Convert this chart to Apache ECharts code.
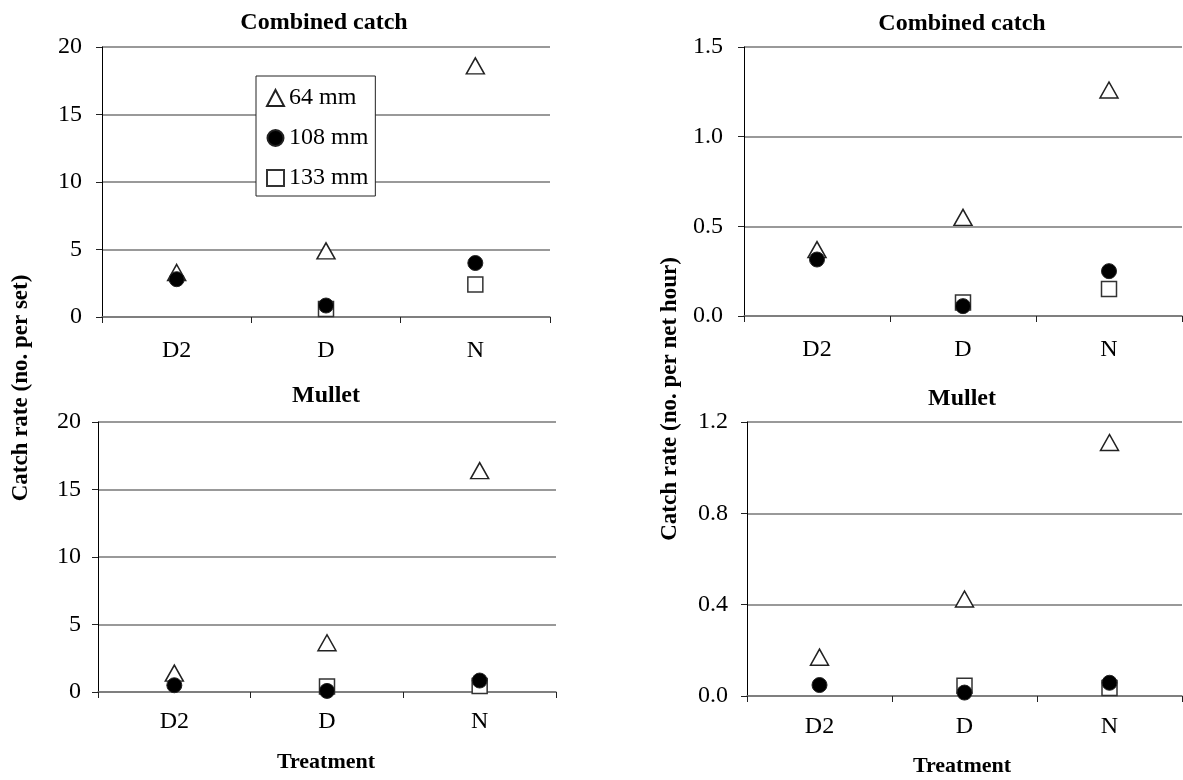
<!DOCTYPE html>
<html><head><meta charset="utf-8">
<script src="https://cdn.jsdelivr.net/npm/echarts@6/dist/echarts.min.js"></script>
<style>html,body{margin:0;padding:0;background:#fff}#c{width:1183px;height:780px}</style>
</head><body><div id="c"></div>
<script>
const categories = ['D2', 'D', 'N'];
const seriesNames = ['64 mm', '108 mm', '133 mm'];
// Combined catch, no. per set
const combinedSet64 = [3.3, 4.9, 18.6];
const combinedSet108 = [2.8, 0.85, 4.0];
const combinedSet133 = [null, 0.6, 2.4];
// Combined catch, no. per net hour
const combinedHour64 = [0.37, 0.55, 1.26];
const combinedHour108 = [0.315, 0.055, 0.25];
const combinedHour133 = [null, 0.075, 0.15];
// Mullet, no. per set
const mulletSet64 = [1.4, 3.65, 16.4];
const mulletSet108 = [0.5, 0.08, 0.85];
const mulletSet133 = [null, 0.4, 0.45];
// Mullet, no. per net hour
const mulletHour64 = [0.17, 0.425, 1.11];
const mulletHour108 = [0.048, 0.015, 0.058];
const mulletHour133 = [null, 0.045, 0.035];

const FONT = 'Liberation Serif';
const chart = echarts.init(document.getElementById('c'));

const grids = [
  {left: 102, top: 47, width: 448, height: 270},
  {left: 744, top: 47, width: 438, height: 269},
  {left: 98, top: 422, width: 458, height: 270},
  {left: 747, top: 422, width: 435, height: 274}
];
const yDefs = [
  {min: 0, max: 20, interval: 5, dec: 0},
  {min: 0, max: 1.5, interval: 0.5, dec: 1},
  {min: 0, max: 20, interval: 5, dec: 0},
  {min: 0, max: 1.2, interval: 0.4, dec: 1}
];
const xLabelMargins = [22, 22, 18, 19];
const yLabelMargins = [20, 21, 17, 19];

const xAxis = grids.map((g, i) => ({
  type: 'category', gridIndex: i, data: categories,
  axisLine: {lineStyle: {color: '#777', width: 1.5}},
  axisTick: {show: true, length: 6, lineStyle: {color: '#222', width: 1}},
  axisLabel: {fontFamily: FONT, fontSize: 24, color: '#000', margin: xLabelMargins[i]},
  splitLine: {show: false}
}));
const yAxis = yDefs.map((d, i) => ({
  type: 'value', gridIndex: i, min: d.min, max: d.max, interval: d.interval,
  axisLine: {show: true, lineStyle: {color: '#000', width: 1}},
  axisTick: {show: true, length: 6, lineStyle: {color: '#222', width: 1}},
  axisLabel: {fontFamily: FONT, fontSize: 24, color: '#000', margin: yLabelMargins[i],
    formatter: v => v.toFixed(d.dec)},
  splitLine: {show: true, lineStyle: {color: '#777', width: 1.5}}
}));

const panelData = [
  [combinedSet64, combinedSet108, combinedSet133],
  [combinedHour64, combinedHour108, combinedHour133],
  [mulletSet64, mulletSet108, mulletSet133],
  [mulletHour64, mulletHour108, mulletHour133]
];
const styles = [
  {symbol: 'triangle', symbolSize: [18, 16], itemStyle: {color: '#fff', borderColor: '#222', borderWidth: 1.5, opacity: 1}, z: 2},
  {symbol: 'circle', symbolSize: 15, itemStyle: {color: '#000', borderColor: '#222', borderWidth: 1, opacity: 1}, z: 4},
  {symbol: 'rect', symbolSize: 15, itemStyle: {color: '#fff', borderColor: '#333', borderWidth: 1.5, opacity: 1}, z: 3}
];
const series = [];
panelData.forEach((arrs, p) => {
  arrs.forEach((arr, k) => {
    series.push(Object.assign({
      type: 'scatter', name: seriesNames[k], xAxisIndex: p, yAxisIndex: p,
      data: arr, emphasis: {disabled: true}, silent: true
    }, styles[k]));
  });
});

function txt(x, y, s, size, rot) {
  return {
    type: 'text', x: x, y: y, silent: true, rotation: rot || 0,
    style: {text: s, fontFamily: FONT, fontSize: size, fontWeight: 'bold',
      fill: '#000', align: 'center', verticalAlign: 'middle'}
  };
}

chart.setOption({
  animation: false,
  grid: grids,
  xAxis: xAxis,
  yAxis: yAxis,
  series: series,
  legend: {
    data: seriesNames,
    orient: 'vertical', left: 256, top: 76,
    padding: [10, 7, 6, 10],
    itemGap: 16, itemWidth: 17, itemHeight: 16,
    backgroundColor: '#fff', borderColor: '#222', borderWidth: 1, borderRadius: 0,
    textStyle: {fontFamily: FONT, fontSize: 24, color: '#000', lineHeight: 24},
    selectedMode: false
  },
  graphic: [
    txt(324, 23, 'Combined catch', 24),
    txt(962, 24, 'Combined catch', 24),
    txt(326, 396, 'Mullet', 24),
    txt(962, 399, 'Mullet', 24),
    txt(326, 762, 'Treatment', 22),
    txt(962, 766, 'Treatment', 22),
    txt(21, 388, 'Catch rate (no. per set)', 23, Math.PI / 2),
    txt(670, 399, 'Catch rate (no. per net hour)', 23, Math.PI / 2)
  ]
});
</script>
</body></html>
